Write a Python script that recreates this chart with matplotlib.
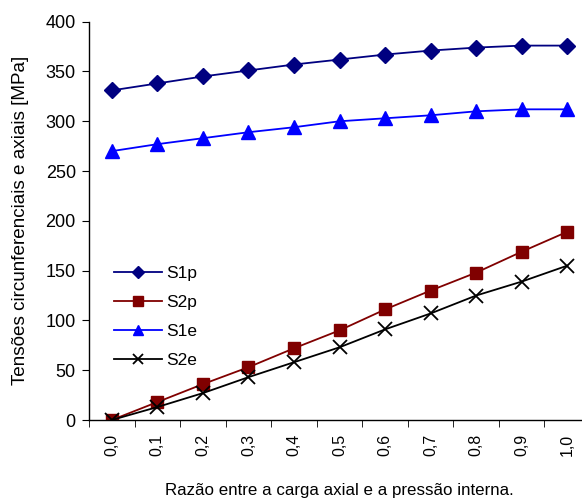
import matplotlib.pyplot as plt
import numpy as np

plt.rcParams['font.family'] = ['Liberation Sans', 'DejaVu Sans']

ratios = ["0,0", "0,1", "0,2", "0,3", "0,4", "0,5", "0,6", "0,7", "0,8", "0,9", "1,0"]
s1p = [331, 338, 345, 351, 357, 362, 367, 371, 374, 376, 376]
s2p = [0, 18, 36, 53, 72, 90, 111, 130, 148, 169, 189]
s1e = [270, 277, 283, 289, 294, 300, 303, 306, 310, 312, 312]
s2e = [0, 13, 27, 43, 58, 73, 91, 107, 125, 139, 155]

x = np.arange(len(ratios))

fig = plt.figure(figsize=(5.82, 4.98), dpi=100)
ax = fig.add_axes([89/582, 78/498, 501/582, 398.3/498])

ax.plot(x, s1p, color="#000080", marker="D", markersize=8.5, linewidth=1.3, label="S1p")
ax.plot(x, s2p, color="#800000", marker="s", markersize=9, linewidth=1.3, label="S2p")
ax.plot(x, s1e, color="#0000FF", marker="^", markersize=10, linewidth=1.3, label="S1e")
ax.plot(x, s2e, color="black", marker="x", markersize=10, markeredgewidth=1.3,
        linewidth=1.3, label="S2e")

ax.set_xlim(-0.5, len(ratios) - 0.5)
ax.set_ylim(0, 400)
ax.set_yticks(range(0, 401, 50))
ax.set_xticks(x)
ax.set_xticklabels(ratios, rotation=90)
ax.set_xticks(np.arange(-0.5, len(ratios), 1.0), minor=True)
ax.tick_params(axis="x", which="major", length=0, pad=10, labelsize=11.5)
ax.tick_params(axis="x", which="minor", length=5, direction="out")
ax.tick_params(axis="y", length=5, direction="out", labelsize=13, pad=4.5)

for side in ["top", "right"]:
    ax.spines[side].set_visible(False)
for side in ["left", "bottom"]:
    ax.spines[side].set_linewidth(1.0)

ax.set_ylabel("Tensões circunferenciais e axiais [MPa]", fontsize=13.6, labelpad=12)
ax.set_xlabel("Razão entre a carga axial e a pressão interna.", fontsize=12.2, labelpad=19)

ax.legend(loc="upper left", bbox_to_anchor=(98/582, 1 - 250/498),
          bbox_transform=fig.transFigure, frameon=False, fontsize=12.5,
          handlelength=2.8, labelspacing=0.8, handletextpad=0.2, markerscale=0.75)

plt.savefig("out.png", dpi=100)
